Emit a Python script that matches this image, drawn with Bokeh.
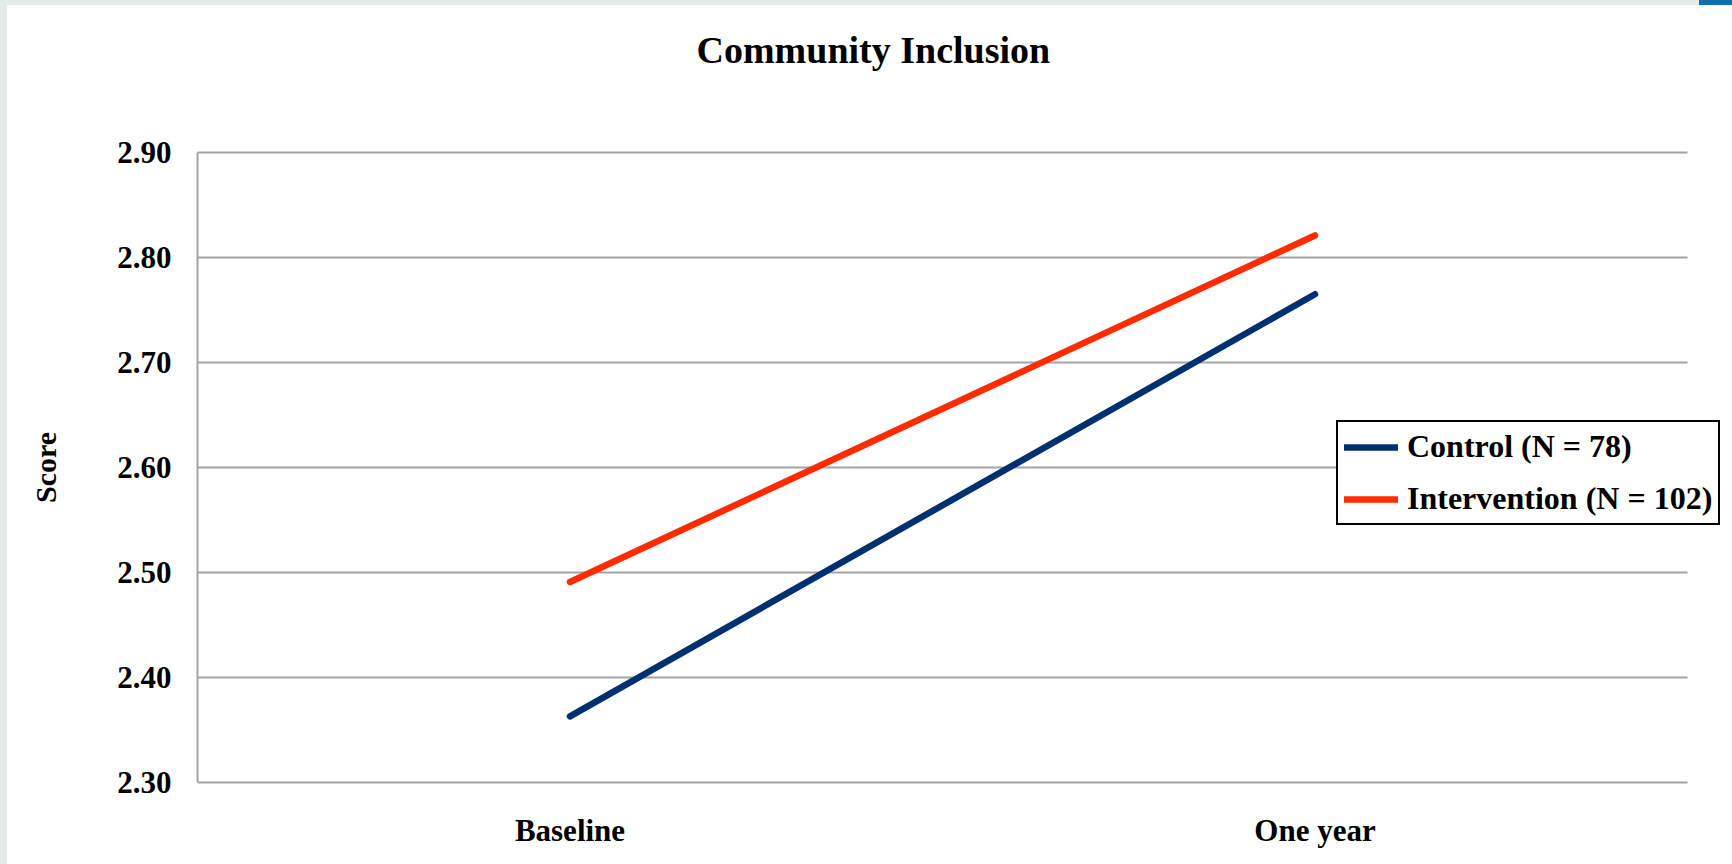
from bokeh.plotting import figure
from bokeh.models import (Range1d, FixedTicker, NumeralTickFormatter,
                          Legend, LegendItem, Label)
from bokeh.layouts import column
from bokeh.embed import file_html
from bokeh.resources import INLINE

# Mean community inclusion scores per group
timepoints = ["Baseline", "One year"]
control_scores = [2.363, 2.765]
intervention_scores = [2.491, 2.821]
series_names = ["Control (N = 78)", "Intervention (N = 102)"]
y_ticks = [2.30, 2.40, 2.50, 2.60, 2.70, 2.80, 2.90]
chart_title = "Community Inclusion"

FONT = "Liberation Serif"
NAVY = "#00306F"
RED = "#FF2B00"
GRID = "#a4a4a4"

# layout constants (pixels inside the figure)
W, H = 1725, 859
LEFT, TOP, BOTTOM = 190, 142, 77   # frame borders
PAD = 5                            # room above/below the outer gridlines
BAND = 745                         # width of one category band
PX_PER_UNIT = 1050                 # vertical scale

# category centres on a numeric axis
x_pos = [i + 0.5 for i in range(len(timepoints))]
n_bands = len(timepoints)

y_lo = y_ticks[0] - PAD / PX_PER_UNIT
y_hi = y_ticks[-1] + PAD / PX_PER_UNIT
x_hi = (W - LEFT) / BAND

p = figure(
    width=W, height=H,
    x_range=Range1d(0, x_hi),
    y_range=Range1d(y_lo, y_hi),
    output_backend="svg", toolbar_location=None,
    min_border_left=LEFT, min_border_right=0,
    min_border_top=TOP, min_border_bottom=BOTTOM,
    background_fill_color="white", border_fill_color="white",
    outline_line_color=None,
)
p.margin = (5, 0, 0, 7)
p.styles = {"background-color": "white"}

# y axis
yax = p.yaxis[0]
yax.ticker = FixedTicker(ticks=y_ticks)
yax.formatter = NumeralTickFormatter(format="0.00")
yax.bounds = (y_ticks[0], y_ticks[-1])
yax.axis_label = "Score"
yax.axis_label_text_font = FONT
yax.axis_label_text_font_style = "bold"
yax.axis_label_text_font_size = "30px"
yax.axis_label_text_color = "black"
yax.axis_label_standoff = 52
yax.major_label_text_font = FONT
yax.major_label_text_font_style = "bold"
yax.major_label_text_font_size = "31px"
yax.major_label_text_color = "black"
yax.major_label_standoff = 26
yax.major_tick_in = 0
yax.major_tick_out = 0
yax.minor_tick_in = 0
yax.minor_tick_out = 0
yax.axis_line_color = GRID
yax.axis_line_width = 2

# x axis: one label per category centre
xax = p.xaxis[0]
xax.ticker = FixedTicker(ticks=x_pos)
xax.major_label_overrides = {x: t for x, t in zip(x_pos, timepoints)}
xax.major_label_text_font = FONT
xax.major_label_text_font_style = "bold"
xax.major_label_text_font_size = "31px"
xax.major_label_text_color = "black"
xax.major_label_standoff = 25
xax.major_tick_in = 0
xax.major_tick_out = 0
xax.minor_tick_in = 0
xax.minor_tick_out = 0
xax.axis_line_color = None

p.xgrid.visible = False
p.ygrid.visible = False

# horizontal gridlines spanning the category bands only
p.segment(x0=0, x1=n_bands, y0=y_ticks, y1=y_ticks,
          line_color=GRID, line_width=2)

r_control = p.line(x_pos, control_scores, line_color=NAVY, line_width=6.5,
                   line_cap="round")
r_interv = p.line(x_pos, intervention_scores, line_color=RED, line_width=6.5,
                  line_cap="round")

# title, placed in the top border panel
p.add_layout(Label(
    x=499, y=TOP - 44, x_units="screen", y_units="screen",
    text=chart_title, text_font=FONT, text_font_style="bold",
    text_font_size="38px", text_color="black",
    text_align="left", text_baseline="alphabetic",
), "above")

frame_h = H - TOP - BOTTOM
legend = Legend(
    items=[LegendItem(label=series_names[0], renderers=[r_control]),
           LegendItem(label=series_names[1], renderers=[r_interv])],
    location=(1139, frame_h + TOP - 520),
    border_line_color="black", border_line_width=2, border_line_alpha=1,
    background_fill_color="white", background_fill_alpha=1,
    padding=6, spacing=15, margin=0,
    glyph_width=54, glyph_height=36, label_height=36, label_standoff=9,
    label_text_font=FONT, label_text_font_style="bold",
    label_text_font_size="32px", label_text_color="black",
)
p.add_layout(legend)

page = column(p, styles={"background": "linear-gradient(to right, #e4ecea 1699px, #0b6fb1 1699px)"})

open("out.html", "w").write(file_html(page, INLINE))
